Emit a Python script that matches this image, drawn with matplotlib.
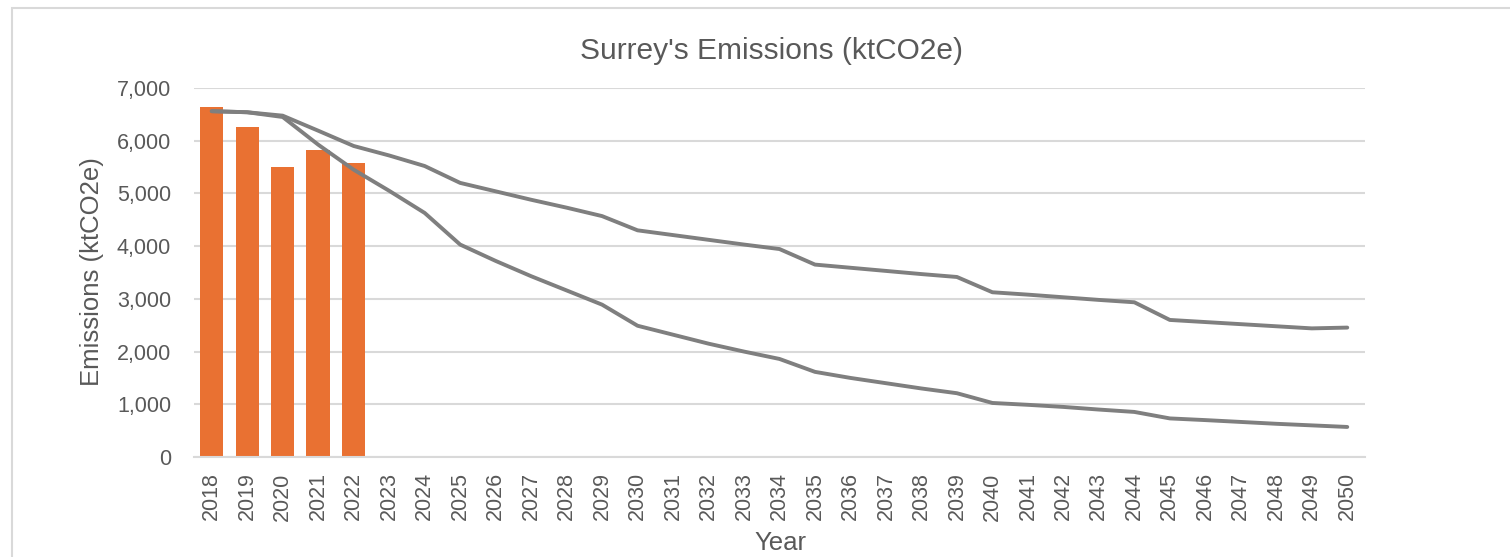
import matplotlib
matplotlib.use("Agg")
from matplotlib import pyplot as plt
from matplotlib.patches import Rectangle
import numpy as np

years = list(range(2018, 2051))

# actual emissions (bars)
actual_years = [2018, 2019, 2020, 2021, 2022]
actual = [6635, 6262, 5503, 5825, 5575]

# pathways (lines)
upper_path = [6560, 6540, 6475, 6190, 5900, 5720, 5520, 5200, 5040, 4880, 4730,
              4570, 4300, 4210, 4120, 4030, 3945, 3650, 3590, 3530, 3470, 3415,
              3125, 3080, 3030, 2980, 2935, 2600, 2560, 2520, 2480, 2440, 2455]
lower_path = [6560, 6540, 6450, 5925, 5450, 5050, 4630, 4030, 3720, 3430, 3160,
              2890, 2490, 2320, 2150, 2000, 1860, 1615, 1500, 1400, 1300, 1210,
              1025, 990, 950, 900, 855, 732, 700, 665, 630, 600, 570]

text_col = "#595959"
grid_col = "#d9d9d9"
line_col = "#7f7f7f"
bar_col = "#E97132"

plt.rcParams['font.family'] = ['Liberation Sans', 'DejaVu Sans']

fig = plt.figure(figsize=(15.1, 5.57), dpi=100)
W, H = 1510, 557
ax = fig.add_axes([194 / W, 1 - 457 / H, (1365 - 194) / W, (457 - 88) / H])

# chart border
fig.patches.append(Rectangle((12 / W, -0.1), 1.2, 1 - 8 / H + 0.1, transform=fig.transFigure,
                             fill=False, edgecolor="#d9d9d9", lw=1.5))

x = np.arange(len(years))
ax.bar([years.index(y) for y in actual_years], actual, width=0.66, color=bar_col, zorder=2)
ax.plot(x, upper_path, color=line_col, lw=2.8, solid_capstyle="round", zorder=3)
ax.plot(x, lower_path, color=line_col, lw=2.8, solid_capstyle="round", zorder=3)

ax.set_xlim(-0.5, len(years) - 0.5)
ax.set_ylim(0, 7000)
ax.set_yticks(range(0, 7001, 1000))
ax.set_yticklabels([f"{v:,}" for v in range(0, 7001, 1000)])
ax.set_xticks(x)
ax.set_xticklabels([str(y) for y in years], rotation=90)
ax.yaxis.grid(True, color=grid_col, lw=1.5, zorder=0)
ax.set_axisbelow(True)
for s in ["top", "right", "left"]:
    ax.spines[s].set_visible(False)
ax.spines["bottom"].set_color(grid_col)
ax.spines["bottom"].set_linewidth(1.5)
ax.tick_params(axis="both", length=0, labelsize=15.5, colors=text_col)
ax.tick_params(axis="y", pad=16.5)
ax.tick_params(axis="x", pad=11)

fig.text(772 / W, 1 - 51 / H, "Surrey's Emissions (ktCO2e)", fontsize=21.5,
         color=text_col, ha="center", va="center")
fig.text(92 / W, 1 - 272 / H, "Emissions (ktCO2e)", fontsize=18.5, color=text_col,
         ha="center", va="center", rotation=90)
fig.text(780 / W, 1 - 543 / H, "Year", fontsize=18.5, color=text_col,
         ha="center", va="center")

fig.savefig("out.png", dpi=100)
